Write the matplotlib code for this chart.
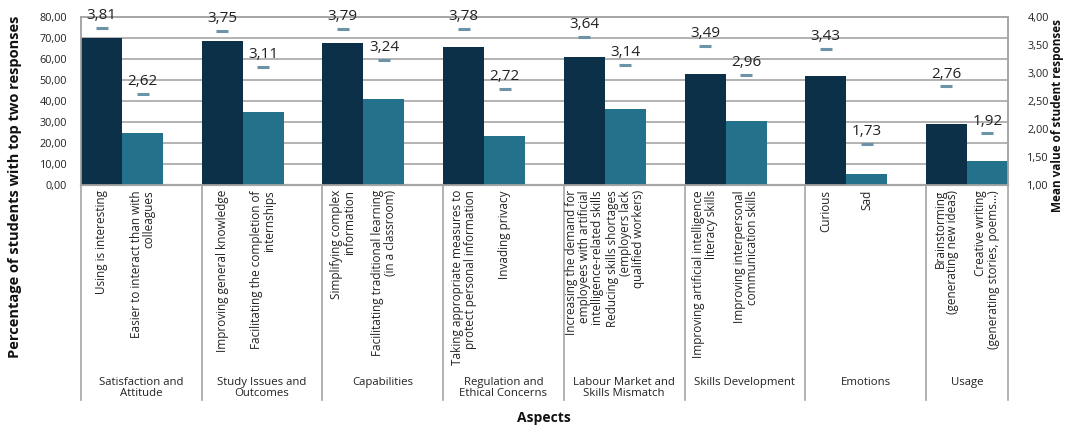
import numpy as np
import matplotlib
matplotlib.use("Agg")
import matplotlib.pyplot as plt
from matplotlib.ticker import FuncFormatter, MultipleLocator
import matplotlib.transforms as mtransforms

plt.rcParams['font.family'] = ['Open Sans', 'DejaVu Sans']

GROUPS = ["Satisfaction and\nAttitude", "Study Issues and\nOutcomes", "Capabilities",
          "Regulation and\nEthical Concerns", "Labour Market and\nSkills Mismatch",
          "Skills Development", "Emotions", "Usage"]

ITEMS_A = ["Using is interesting",
           "Improving general knowledge",
           "Simplifying complex\ninformation",
           "Taking appropriate measures to\nprotect personal information",
           "Increasing the demand for\nemployees with artificial\nintelligence-related skills",
           "Improving artificial intelligence\nliteracy skills",
           "Curious",
           "Brainstorming\n(generating new ideas)"]
ITEMS_B = ["Easier to interact than with\ncolleagues",
           "Facilitating the completion of\ninternships",
           "Facilitating traditional learning\n(in a classroom)",
           "Invading privacy",
           "Reducing skills shortages\n(employers lack\nqualified workers)",
           "Improving interpersonal\ncommunication skills",
           "Sad",
           "Creative writing\n(generating stories, poems...)"]

# percentage of students with top two responses
pct_a = [70.0, 68.8, 67.8, 65.9, 61.1, 53.0, 52.0, 29.0]
pct_b = [24.6, 34.7, 41.0, 23.2, 36.2, 30.4, 5.4, 11.2]
# mean value of student responses
mean_a = [3.81, 3.75, 3.79, 3.78, 3.64, 3.49, 3.43, 2.76]
mean_b = [2.62, 3.11, 3.24, 2.72, 3.14, 2.96, 1.73, 1.92]

DARK = "#0b3047"
TEAL = "#24718b"
DASH = "#6d93a8"
GRID = "#a6a6a6"
W = 0.34


def comma(v, pos=None):
    return f"{v:.2f}".replace(".", ",")


fig = plt.figure(figsize=(10.67, 4.26), dpi=100)
ax = fig.add_axes([81/1067, 1-185/426, (1008-81)/1067, 168/426])
ax2 = ax.twinx()

x = np.arange(len(GROUPS))
ax.bar(x, pct_a, width=W, align="edge", color=DARK, zorder=3)
ax.bar(x + W, pct_b, width=W, align="edge", color=TEAL, zorder=3)

ax.set_xlim(0, len(GROUPS) - 1 + 2*W)
ax.set_ylim(0, 80)
ax.yaxis.set_major_locator(MultipleLocator(10))
ax.yaxis.set_major_formatter(FuncFormatter(comma))
ax.grid(axis="y", color=GRID, lw=1.2, zorder=0)
ax.set_axisbelow(True)
ax.set_xticks([])
ax.tick_params(axis="y", length=0, pad=10, labelsize=7.8, labelcolor="#222222")

ax2.set_ylim(1, 4)
ax2.yaxis.set_major_locator(MultipleLocator(0.5))
ax2.yaxis.set_major_formatter(FuncFormatter(comma))
ax2.tick_params(axis="y", length=0, pad=14, labelsize=7.8, labelcolor="#222222")

for a in (ax, ax2):
    for s in a.spines.values():
        s.set_color(GRID)
        s.set_linewidth(1.2)
ax.spines["bottom"].set_linewidth(1.6)

# mean markers and labels
for xs, ms in ((x + W/2, mean_a), (x + 1.5*W, mean_b)):
    ax2.plot(xs, ms, linestyle="none", marker="_", ms=8, mew=2.2, color=DASH, zorder=4)
    for xi, m in zip(xs, ms):
        ax2.annotate(comma(m), (xi, m), xytext=(0, 3.5), textcoords="offset points",
                     ha="center", va="bottom", fontsize=11, color="#222222", zorder=5)

# category labels and group boxes below the axis
trans = mtransforms.blended_transform_factory(ax.transData, ax.transAxes)
for i in range(len(GROUPS)):
    ax.text(i + W/2, -0.03, ITEMS_A[i], transform=trans, rotation=90, ha="center", va="top",
            multialignment="right", fontsize=8.5, color="#222222", linespacing=1.0)
    ax.text(i + 1.5*W, -0.03, ITEMS_B[i], transform=trans, rotation=90, ha="center", va="top",
            multialignment="right", fontsize=8.5, color="#222222", linespacing=1.0)
    right = min(i + 1, len(GROUPS) - 1 + 2*W)
    ax.text((i + right)/2, -1.14, GROUPS[i], transform=trans, ha="center", va="top",
            fontsize=8.2, color="#222222", linespacing=1.05)
    ax.plot([i, i], [0, -1.28], transform=trans, color=GRID, lw=1.2, clip_on=False)
ax.plot([len(GROUPS) - 1 + 2*W]*2, [0, -1.28], transform=trans, color=GRID, lw=1.2, clip_on=False)

fig.text(544/1067, 1-418/426, "Aspects", ha="center", va="center", fontsize=10,
         fontweight="bold", color="#111111")
fig.text(15/1067, 1-187/426, "Percentage of students with top two responses", rotation=90,
         ha="center", va="center", fontsize=10.5, fontweight="bold", color="#111111")
fig.text(1058/1067, 1-115/426, "Mean value of student responses", rotation=90,
         ha="center", va="center", fontsize=8.5, fontweight="bold", color="#111111")

fig.savefig("out.png", dpi=100, facecolor="white")
